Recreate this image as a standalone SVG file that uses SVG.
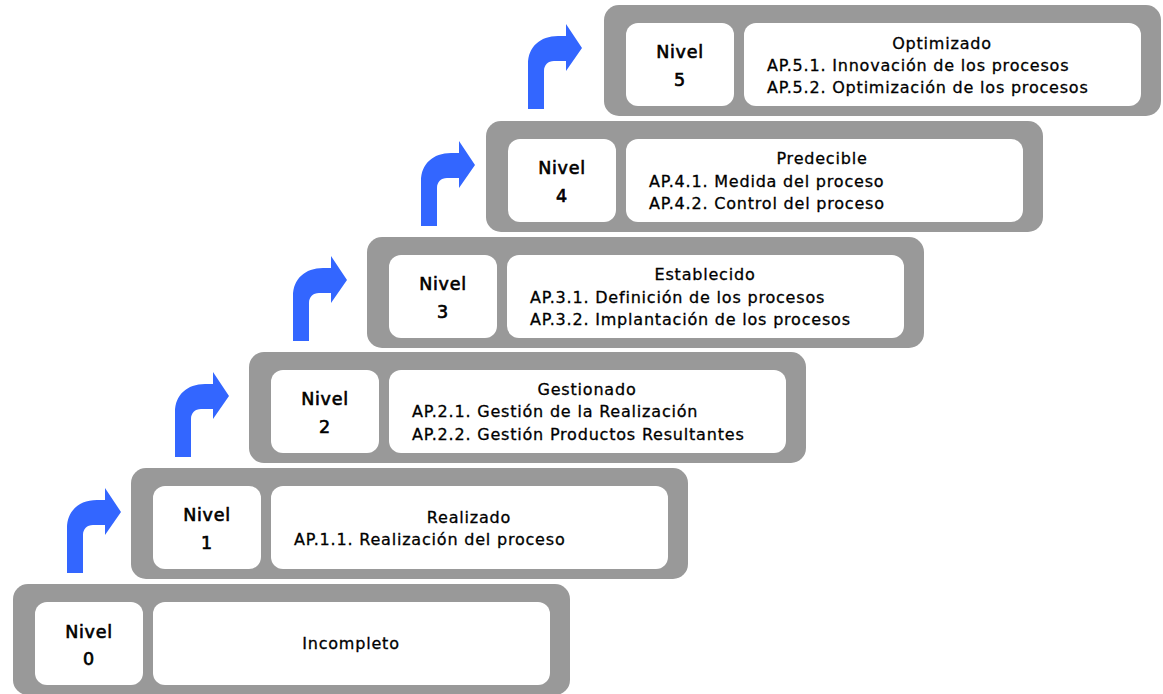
<svg xmlns="http://www.w3.org/2000/svg" xmlns:xlink="http://www.w3.org/1999/xlink" width="1163" height="694" viewBox="0 0 1163 694">
  <style>
    .frame { fill: #999999; }
    .card { fill: #ffffff; }
    .arrow { fill: #3366ff; }
    text { font-family: "DejaVu Sans", Verdana, sans-serif; fill: #000000; stroke: #000000; stroke-width: 0.3px; }
    .lvl { font-size: 17.5px; stroke-width: 0.65px; letter-spacing: 0.7px; text-anchor: middle; }
    .title { font-size: 16px; letter-spacing: 0.8px; text-anchor: middle; }
    .item { font-size: 16px; letter-spacing: 0.8px; }
  </style>
  <defs>
    <!-- bent-up arrow; origin at the bottom-left of the stem -->
    <path id="bent" class="arrow" d="M0,0 V-45 C0,-62 12,-73 30,-73 H38 V-85 L54,-61 L38,-38 V-48 H26 C20,-48 16,-44 16,-38 V0 Z"/>
  </defs>

  <rect width="1163" height="694" fill="#ffffff"/>

  <g id="connectors">
    <use xlink:href="#bent" x="67" y="573"/>
    <use xlink:href="#bent" x="175" y="457"/>
    <use xlink:href="#bent" x="293" y="341"/>
    <use xlink:href="#bent" x="421" y="226"/>
    <use xlink:href="#bent" x="528" y="109"/>
  </g>

  <g id="nivel0">
    <rect class="frame" x="13" y="584" width="557" height="111" rx="15"/>
    <rect class="card" x="35" y="602" width="108" height="83" rx="12"/>
    <rect class="card" x="153" y="602" width="397" height="83" rx="12"/>
    <text class="lvl" x="89" y="638">Nivel</text>
    <text class="lvl" x="89" y="665">0</text>
    <text class="title" x="351" y="649">Incompleto</text>
  </g>

  <g id="nivel1">
    <rect class="frame" x="131" y="468" width="557" height="111" rx="15"/>
    <rect class="card" x="153" y="486" width="108" height="83" rx="12"/>
    <rect class="card" x="271" y="486" width="397" height="83" rx="12"/>
    <text class="lvl" x="207" y="521">Nivel</text>
    <text class="lvl" x="207" y="549">1</text>
    <text class="title" x="469" y="523">Realizado</text>
    <text class="item" x="294" y="545">AP.1.1. Realización del proceso</text>
  </g>

  <g id="nivel2">
    <rect class="frame" x="249" y="352" width="557" height="111" rx="15"/>
    <rect class="card" x="271" y="370" width="108" height="83" rx="12"/>
    <rect class="card" x="389" y="370" width="397" height="83" rx="12"/>
    <text class="lvl" x="325" y="405">Nivel</text>
    <text class="lvl" x="325" y="433">2</text>
    <text class="title" x="587" y="395">Gestionado</text>
    <text class="item" x="412" y="417">AP.2.1. Gestión de la Realización</text>
    <text class="item" x="412" y="440">AP.2.2. Gestión Productos Resultantes</text>
  </g>

  <g id="nivel3">
    <rect class="frame" x="367" y="237" width="557" height="111" rx="15"/>
    <rect class="card" x="389" y="255" width="108" height="83" rx="12"/>
    <rect class="card" x="507" y="255" width="397" height="83" rx="12"/>
    <text class="lvl" x="443" y="290">Nivel</text>
    <text class="lvl" x="443" y="318">3</text>
    <text class="title" x="705" y="280">Establecido</text>
    <text class="item" x="530" y="303">AP.3.1. Definición de los procesos</text>
    <text class="item" x="530" y="325">AP.3.2. Implantación de los procesos</text>
  </g>

  <g id="nivel4">
    <rect class="frame" x="486" y="121" width="557" height="111" rx="15"/>
    <rect class="card" x="508" y="139" width="108" height="83" rx="12"/>
    <rect class="card" x="626" y="139" width="397" height="83" rx="12"/>
    <text class="lvl" x="562" y="174">Nivel</text>
    <text class="lvl" x="562" y="202">4</text>
    <text class="title" x="822" y="164">Predecible</text>
    <text class="item" x="649" y="187">AP.4.1. Medida del proceso</text>
    <text class="item" x="649" y="209">AP.4.2. Control del proceso</text>
  </g>

  <g id="nivel5">
    <rect class="frame" x="604" y="5" width="557" height="111" rx="15"/>
    <rect class="card" x="626" y="23" width="108" height="83" rx="12"/>
    <rect class="card" x="744" y="23" width="397" height="83" rx="12"/>
    <text class="lvl" x="680" y="58">Nivel</text>
    <text class="lvl" x="680" y="86">5</text>
    <text class="title" x="942" y="49">Optimizado</text>
    <text class="item" x="767" y="71">AP.5.1. Innovación de los procesos</text>
    <text class="item" x="767" y="93">AP.5.2. Optimización de los procesos</text>
  </g>
</svg>
